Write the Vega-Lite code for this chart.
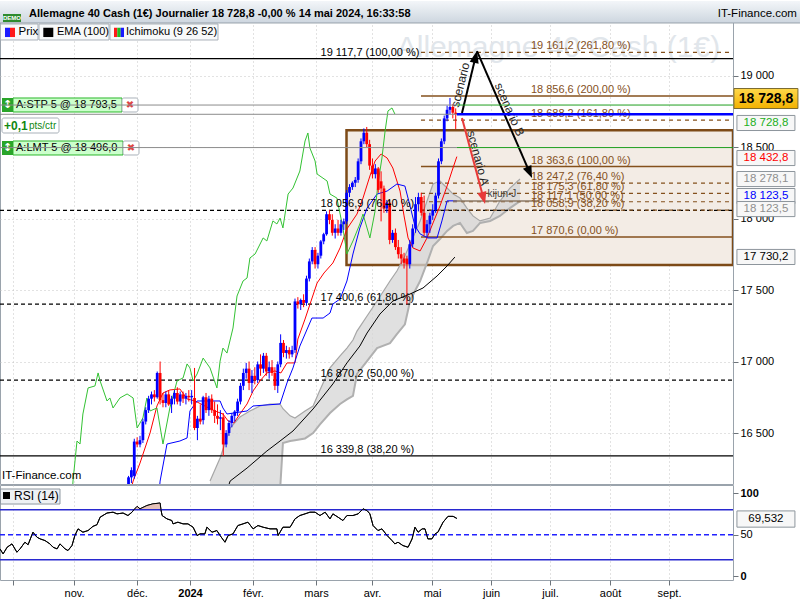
{
"$schema":"https://vega.github.io/schema/vega-lite/v6.json",
"padding":{"left":-3,"top":0,"right":0,"bottom":0},
"spacing":-3,
"background":"#ffffff",
"config":{"font":"Liberation Sans","view":{"stroke":"#9aa3ac"},"scale":{"continuousPadding":0},"axis":{"labelFontSize":11,"labelColor":"#000000","tickColor":"#6d747b","domainColor":"#6d747b","gridColor":"#c4c4c4","gridDash":[1,3],"labelFont":"Liberation Sans"},"text":{"font":"Liberation Sans"}},
"datasets":{
"one":[{}],
"candles":[
{"t":19,"o":16120,"h":16200,"l":16090,"c":16190},{"t":20,"o":16190,"h":16260,"l":16150,"c":16240},{"t":21,"o":16200,"h":16460,"l":16180,"c":16440},{"t":22,"o":16440,"h":16470,"l":16400,"c":16420},{"t":23,"o":16420,"h":16480,"l":16400,"c":16450},{"t":24,"o":16450,"h":16600,"l":16430,"c":16580},{"t":25,"o":16580,"h":16680,"l":16560,"c":16660},{"t":26,"o":16660,"h":16760,"l":16640,"c":16740},{"t":27,"o":16740,"h":16790,"l":16700,"c":16770},{"t":28,"o":16770,"h":16800,"l":16720,"c":16750},
{"t":29,"o":16750,"h":16930,"l":16740,"c":16920},{"t":30,"o":16920,"h":17000,"l":16700,"c":16730},{"t":31,"o":16730,"h":16780,"l":16680,"c":16710},{"t":32,"o":16710,"h":16790,"l":16680,"c":16770},{"t":33,"o":16770,"h":16800,"l":16690,"c":16700},{"t":34,"o":16700,"h":16760,"l":16640,"c":16740},{"t":35,"o":16740,"h":16800,"l":16700,"c":16780},{"t":36,"o":16780,"h":16820,"l":16700,"c":16720},{"t":37,"o":16720,"h":16790,"l":16690,"c":16770},{"t":38,"o":16770,"h":16790,"l":16710,"c":16740},
{"t":39,"o":16740,"h":16780,"l":16700,"c":16760},{"t":40,"o":16760,"h":16800,"l":16720,"c":16750},{"t":41,"o":16750,"h":16800,"l":16700,"c":16760},{"t":42,"o":16745,"h":16955,"l":16520,"c":16535},{"t":43,"o":16535,"h":16620,"l":16450,"c":16600},{"t":44,"o":16600,"h":16700,"l":16560,"c":16580},{"t":45,"o":16590,"h":16760,"l":16560,"c":16750},{"t":46,"o":16750,"h":16780,"l":16640,"c":16660},{"t":47,"o":16660,"h":16760,"l":16620,"c":16740},{"t":48,"o":16740,"h":16770,"l":16640,"c":16660},
{"t":49,"o":16660,"h":16720,"l":16570,"c":16620},{"t":50,"o":16620,"h":16700,"l":16560,"c":16600},{"t":51,"o":16600,"h":16660,"l":16520,"c":16610},{"t":52,"o":16610,"h":16640,"l":16340,"c":16420},{"t":53,"o":16420,"h":16520,"l":16400,"c":16500},{"t":54,"o":16500,"h":16590,"l":16480,"c":16570},{"t":55,"o":16570,"h":16640,"l":16540,"c":16620},{"t":56,"o":16620,"h":16660,"l":16580,"c":16650},{"t":57,"o":16650,"h":16740,"l":16620,"c":16720},{"t":58,"o":16720,"h":16850,"l":16700,"c":16830},
{"t":59,"o":16830,"h":16950,"l":16800,"c":16920},{"t":60,"o":16920,"h":16990,"l":16880,"c":16950},{"t":61,"o":16950,"h":17000,"l":16800,"c":16850},{"t":62,"o":16850,"h":16940,"l":16780,"c":16900},{"t":63,"o":16900,"h":16960,"l":16840,"c":16870},{"t":64,"o":16870,"h":17000,"l":16850,"c":16980},{"t":65,"o":16980,"h":17050,"l":16900,"c":16950},{"t":66,"o":16950,"h":17060,"l":16920,"c":17040},{"t":67,"o":17040,"h":17060,"l":16900,"c":16930},{"t":68,"o":16930,"h":17000,"l":16880,"c":16960},
{"t":69,"o":16960,"h":17010,"l":16900,"c":16920},{"t":70,"o":16920,"h":16960,"l":16800,"c":16830},{"t":71,"o":16830,"h":17000,"l":16780,"c":16980},{"t":72,"o":16980,"h":17190,"l":16960,"c":17130},{"t":73,"o":17130,"h":17150,"l":17030,"c":17060},{"t":74,"o":17060,"h":17110,"l":17020,"c":17080},{"t":75,"o":17080,"h":17100,"l":17020,"c":17050},{"t":76,"o":17050,"h":17110,"l":17030,"c":17080},{"t":77,"o":17080,"h":17440,"l":17060,"c":17420},{"t":78,"o":17420,"h":17450,"l":17370,"c":17400},
{"t":79,"o":17400,"h":17440,"l":17360,"c":17430},{"t":80,"o":17430,"h":17470,"l":17380,"c":17410},{"t":81,"o":17410,"h":17600,"l":17390,"c":17580},{"t":82,"o":17580,"h":17720,"l":17560,"c":17700},{"t":83,"o":17700,"h":17800,"l":17680,"c":17780},{"t":84,"o":17780,"h":17800,"l":17650,"c":17680},{"t":85,"o":17680,"h":17760,"l":17650,"c":17740},{"t":86,"o":17740,"h":17850,"l":17720,"c":17840},{"t":87,"o":17840,"h":17900,"l":17820,"c":17890},{"t":88,"o":17890,"h":18050,"l":17880,"c":18030},
{"t":89,"o":18030,"h":18060,"l":17960,"c":17990},{"t":90,"o":17990,"h":18030,"l":17880,"c":17900},{"t":91,"o":17900,"h":17960,"l":17860,"c":17930},{"t":92,"o":17930,"h":17990,"l":17880,"c":17900},{"t":93,"o":17900,"h":17990,"l":17880,"c":17960},{"t":94,"o":17960,"h":18000,"l":17920,"c":17980},{"t":95,"o":17980,"h":18200,"l":17960,"c":18180},{"t":96,"o":18180,"h":18240,"l":18150,"c":18220},{"t":97,"o":18220,"h":18260,"l":18200,"c":18250},{"t":98,"o":18250,"h":18290,"l":18220,"c":18270},
{"t":99,"o":18270,"h":18420,"l":18250,"c":18400},{"t":100,"o":18400,"h":18560,"l":18380,"c":18540},{"t":101,"o":18540,"h":18630,"l":18520,"c":18600},{"t":102,"o":18600,"h":18640,"l":18500,"c":18520},{"t":103,"o":18520,"h":18550,"l":18340,"c":18370},{"t":104,"o":18370,"h":18420,"l":18280,"c":18310},{"t":105,"o":18310,"h":18380,"l":18280,"c":18350},{"t":106,"o":18350,"h":18360,"l":18180,"c":18200},{"t":107,"o":18260,"h":18330,"l":17980,"c":18210},{"t":108,"o":18210,"h":18230,"l":18040,"c":18070},
{"t":109,"o":18070,"h":18130,"l":18040,"c":18110},{"t":110,"o":18110,"h":18130,"l":17820,"c":17850},{"t":111,"o":17850,"h":17920,"l":17830,"c":17900},{"t":112,"o":17900,"h":17930,"l":17780,"c":17800},{"t":113,"o":17800,"h":17850,"l":17720,"c":17750},{"t":114,"o":17750,"h":17800,"l":17680,"c":17720},{"t":115,"o":17720,"h":17760,"l":17650,"c":17690},{"t":116,"o":17720,"h":17740,"l":17400,"c":17680},{"t":117,"o":17680,"h":17850,"l":17650,"c":17820},{"t":118,"o":17820,"h":17960,"l":17800,"c":17930},
{"t":119,"o":17930,"h":18150,"l":17900,"c":18100},{"t":120,"o":18100,"h":18180,"l":18050,"c":18150},{"t":121,"o":18150,"h":18180,"l":18020,"c":18040},{"t":122,"o":18040,"h":18160,"l":17880,"c":17900},{"t":123,"o":17900,"h":17990,"l":17870,"c":17960},{"t":124,"o":17960,"h":18040,"l":17900,"c":18020},{"t":125,"o":18020,"h":18100,"l":17990,"c":18060},{"t":126,"o":18060,"h":18180,"l":18040,"c":18160},{"t":127,"o":18160,"h":18420,"l":18140,"c":18400},{"t":128,"o":18400,"h":18560,"l":18380,"c":18540},
{"t":129,"o":18540,"h":18720,"l":18520,"c":18700},{"t":130,"o":18700,"h":18790,"l":18680,"c":18760},{"t":131,"o":18760,"h":18843,"l":18730,"c":18780},{"t":132,"o":18780,"h":18800,"l":18700,"c":18740},{"t":133,"o":18740,"h":18770,"l":18626,"c":18728.8}
],
"ind":[
{"s":"tenkan","t":18.5,"v":16000},{"s":"tenkan","t":20.6,"v":16164},{"s":"tenkan","t":23,"v":16290},{"s":"tenkan","t":26.5,"v":16500},{"s":"tenkan","t":28.9,"v":16689},{"s":"tenkan","t":31,"v":16780},{"s":"tenkan","t":33.4,"v":16801},{"s":"tenkan","t":36.9,"v":16808},{"s":"tenkan","t":39.4,"v":16738},{"s":"tenkan","t":42.2,"v":16724},{"s":"tenkan","t":45.6,"v":16689},{"s":"tenkan","t":49.1,"v":16654},{"s":"tenkan","t":51.9,"v":16633},{"s":"tenkan","t":53.7,"v":16584},{"s":"tenkan","t":55.7,"v":16570},{"s":"tenkan","t":57.8,"v":16633},{"s":"tenkan","t":60.3,"v":16703},{"s":"tenkan","t":62.4,"v":16794},{"s":"tenkan","t":64.8,"v":16864},{"s":"tenkan","t":67.2,"v":16920},{"s":"tenkan","t":70,"v":16934},{"s":"tenkan","t":72.1,"v":16920},{"s":"tenkan","t":74.2,"v":16990},{"s":"tenkan","t":77,"v":16990},{"s":"tenkan","t":78,"v":17157},{"s":"tenkan","t":80.5,"v":17297},{"s":"tenkan","t":82.6,"v":17423},{"s":"tenkan","t":84.7,"v":17549},{"s":"tenkan","t":87.1,"v":17619},{"s":"tenkan","t":90.2,"v":17689},{"s":"tenkan","t":92.7,"v":17794},{"s":"tenkan","t":95.1,"v":17927},{"s":"tenkan","t":98.6,"v":18031},{"s":"tenkan","t":100.7,"v":18143},{"s":"tenkan","t":103.1,"v":18297},{"s":"tenkan","t":104.9,"v":18402},{"s":"tenkan","t":107,"v":18451},{"s":"tenkan","t":109.1,"v":18423},{"s":"tenkan","t":111.1,"v":18353},{"s":"tenkan","t":113.6,"v":18192},{"s":"tenkan","t":115,"v":18018},{"s":"tenkan","t":116.4,"v":17864},{"s":"tenkan","t":118.1,"v":17794},{"s":"tenkan","t":120.6,"v":17773},{"s":"tenkan","t":123,"v":17864},{"s":"tenkan","t":125.1,"v":17969},{"s":"tenkan","t":127.5,"v":18087},{"s":"tenkan","t":130,"v":18227},{"s":"tenkan","t":131.7,"v":18332},{"s":"tenkan","t":133.4,"v":18432.8},
{"s":"kijun","t":29.5,"v":16050},{"s":"kijun","t":30,"v":16164},{"s":"kijun","t":32.4,"v":16423},{"s":"kijun","t":36.9,"v":16444},{"s":"kijun","t":39.4,"v":16465},{"s":"kijun","t":40.4,"v":16654},{"s":"kijun","t":42.9,"v":16724},{"s":"kijun","t":50.9,"v":16724},{"s":"kijun","t":51.9,"v":16675},{"s":"kijun","t":53.3,"v":16633},{"s":"kijun","t":60.3,"v":16654},{"s":"kijun","t":62.4,"v":16689},{"s":"kijun","t":71.8,"v":16703},{"s":"kijun","t":74.2,"v":16850},{"s":"kijun","t":76.3,"v":16955},{"s":"kijun","t":78.7,"v":17108},{"s":"kijun","t":82.9,"v":17304},{"s":"kijun","t":86.8,"v":17304},{"s":"kijun","t":89.2,"v":17339},{"s":"kijun","t":90.2,"v":17402},{"s":"kijun","t":92.7,"v":17437},{"s":"kijun","t":95.1,"v":17563},{"s":"kijun","t":97.2,"v":17752},{"s":"kijun","t":99.6,"v":17934},{"s":"kijun","t":102.1,"v":18073},{"s":"kijun","t":105.6,"v":18171},{"s":"kijun","t":109.1,"v":18192},{"s":"kijun","t":112.5,"v":18241},{"s":"kijun","t":115.3,"v":18227},{"s":"kijun","t":117.1,"v":18087},{"s":"kijun","t":118.8,"v":17948},{"s":"kijun","t":120.6,"v":17892},{"s":"kijun","t":123.3,"v":17864},{"s":"kijun","t":126.5,"v":17864},{"s":"kijun","t":128.2,"v":17983},{"s":"kijun","t":130,"v":18123.5},{"s":"kijun","t":133.4,"v":18123.5},
{"s":"chikou","t":-0.8,"v":16000},{"s":"chikou","t":-0.35,"v":16164},{"s":"chikou","t":1.05,"v":16444},{"s":"chikou","t":2.1,"v":16423},{"s":"chikou","t":3.1,"v":16633},{"s":"chikou","t":4.9,"v":16815},{"s":"chikou","t":7.3,"v":16829},{"s":"chikou","t":8.4,"v":16920},{"s":"chikou","t":9.1,"v":16864},{"s":"chikou","t":11.5,"v":16724},{"s":"chikou","t":12.5,"v":16745},{"s":"chikou","t":13.6,"v":16675},{"s":"chikou","t":16,"v":16745},{"s":"chikou","t":18.5,"v":16773},{"s":"chikou","t":20.6,"v":16745},{"s":"chikou","t":22,"v":16535},{"s":"chikou","t":24,"v":16605},{"s":"chikou","t":25.4,"v":16745},{"s":"chikou","t":26.5,"v":16654},{"s":"chikou","t":28.9,"v":16675},{"s":"chikou","t":31,"v":16423},{"s":"chikou","t":33.4,"v":16675},{"s":"chikou","t":35.9,"v":16864},{"s":"chikou","t":38,"v":16885},{"s":"chikou","t":39.4,"v":16983},{"s":"chikou","t":40.4,"v":16955},{"s":"chikou","t":41.5,"v":16864},{"s":"chikou","t":42.9,"v":16913},{"s":"chikou","t":45,"v":17024},{"s":"chikou","t":47.4,"v":16955},{"s":"chikou","t":49.8,"v":16815},{"s":"chikou","t":50.9,"v":17003},{"s":"chikou","t":51.9,"v":17094},{"s":"chikou","t":53.3,"v":17059},{"s":"chikou","t":55.4,"v":17234},{"s":"chikou","t":56.8,"v":17458},{"s":"chikou","t":58.9,"v":17563},{"s":"chikou","t":60.3,"v":17584},{"s":"chikou","t":61.3,"v":17724},{"s":"chikou","t":63.1,"v":17752},{"s":"chikou","t":65.9,"v":17864},{"s":"chikou","t":67.2,"v":17843},{"s":"chikou","t":69.3,"v":17983},{"s":"chikou","t":70.7,"v":17962},{"s":"chikou","t":71.8,"v":18003},{"s":"chikou","t":72.8,"v":17934},{"s":"chikou","t":74.6,"v":18171},{"s":"chikou","t":76.3,"v":18213},{"s":"chikou","t":78.7,"v":18332},{"s":"chikou","t":80.5,"v":18542},{"s":"chikou","t":81.5,"v":18598},{"s":"chikou","t":82.2,"v":18493},{"s":"chikou","t":84,"v":18402},{"s":"chikou","t":84.7,"v":18311},{"s":"chikou","t":88.2,"v":18262},{"s":"chikou","t":89.2,"v":18171},{"s":"chikou","t":91.6,"v":18143},{"s":"chikou","t":93.7,"v":17934},{"s":"chikou","t":95.1,"v":17752},{"s":"chikou","t":97.2,"v":17843},{"s":"chikou","t":99.6,"v":17962},{"s":"chikou","t":100.7,"v":18031},{"s":"chikou","t":102.1,"v":17934},{"s":"chikou","t":103.1,"v":17864},{"s":"chikou","t":104.9,"v":18052},{"s":"chikou","t":105.9,"v":18241},{"s":"chikou","t":107.3,"v":18423},{"s":"chikou","t":108.4,"v":18612},{"s":"chikou","t":109.4,"v":18752},{"s":"chikou","t":110.8,"v":18773},{"s":"chikou","t":111.8,"v":18731},
{"s":"ema","t":53,"v":16080},{"s":"ema","t":54.4,"v":16164},{"s":"ema","t":60.3,"v":16255},{"s":"ema","t":67.2,"v":16374},{"s":"ema","t":71.8,"v":16444},{"s":"ema","t":76.3,"v":16514},{"s":"ema","t":83.3,"v":16668},{"s":"ema","t":90.2,"v":16843},{"s":"ema","t":95.1,"v":16990},{"s":"ema","t":99.6,"v":17108},{"s":"ema","t":102.1,"v":17199},{"s":"ema","t":106.6,"v":17332},{"s":"ema","t":111.1,"v":17423},{"s":"ema","t":117.1,"v":17472},{"s":"ema","t":121.6,"v":17514},{"s":"ema","t":126.5,"v":17598},{"s":"ema","t":130,"v":17668},{"s":"ema","t":132.7,"v":17730.2}
],
"cloud":[
{"t":47.4,"u":16164,"l":15605},{"t":50.9,"u":16325,"l":15700},{"t":54.4,"u":16535,"l":15780},{"t":57.8,"u":16612,"l":15850},{"t":61.3,"u":16654,"l":15900},{"t":64.8,"u":16689,"l":15950},{"t":68.3,"u":16703,"l":16000},{"t":70,"u":16703,"l":16050},{"t":71.8,"u":16703,"l":16100},{"t":72.8,"u":16670,"l":16430},{"t":75.3,"u":16620,"l":16444},{"t":77,"u":16605,"l":16450},{"t":80.5,"u":16654,"l":16462},{"t":83.3,"u":16689,"l":16500},{"t":85.7,"u":16800,"l":16560},{"t":89.2,"u":16955,"l":16640},{"t":92.7,"u":17040,"l":16703},{"t":95.1,"u":17094,"l":16735},{"t":97.2,"u":17150,"l":16760},{"t":98.6,"u":17213,"l":16913},{"t":102.1,"u":17318,"l":17003},{"t":105.6,"u":17423,"l":17094},{"t":110.1,"u":17563,"l":17129},{"t":112.5,"u":17633,"l":17192},{"t":115.3,"u":17738,"l":17260},{"t":117.1,"u":17822,"l":17423},{"t":118.8,"u":17899,"l":17493},{"t":120.6,"u":17983,"l":17563},{"t":123,"u":18122,"l":17689},{"t":125.1,"u":18241,"l":17808},{"t":127.5,"u":18262,"l":17857},{"t":130,"u":18213,"l":17913},{"t":132.1,"u":18171,"l":17948},{"t":134.5,"u":18143,"l":17969},{"t":136.9,"u":18073,"l":17899},{"t":139,"u":18018,"l":17913},{"t":141.5,"u":17983,"l":17969},{"t":145,"u":18003,"l":17983},{"t":148.4,"u":18122,"l":18018},{"t":151.9,"u":18213,"l":18073},{"t":155.4,"u":18276,"l":18122}
],
"rsi":[
{"t":-25.8,"v":33},{"t":-24.7,"v":27},{"t":-23.3,"v":35},{"t":-21.6,"v":39},{"t":-19.9,"v":29},{"t":-18.8,"v":33},{"t":-17.1,"v":41},{"t":-16,"v":38},{"t":-14.3,"v":53},{"t":-12.9,"v":47},{"t":-11.8,"v":45},{"t":-10.1,"v":43},{"t":-8.4,"v":39},{"t":-7.3,"v":35},{"t":-5.9,"v":33},{"t":-4.9,"v":39},{"t":-3.1,"v":33},{"t":-2.1,"v":31},{"t":-0.7,"v":37},{"t":0.3,"v":49},{"t":1.4,"v":57},{"t":3.1,"v":53},{"t":4.9,"v":55},{"t":6.6,"v":60},{"t":8,"v":62},{"t":9.1,"v":71},{"t":11.5,"v":76},{"t":13.6,"v":77},{"t":15,"v":75},{"t":17.1,"v":76},{"t":18.8,"v":73},{"t":20.2,"v":77},{"t":20.9,"v":80},{"t":22,"v":84},{"t":23,"v":81},{"t":25.4,"v":85},{"t":27.5,"v":87},{"t":30,"v":88},{"t":30.3,"v":80},{"t":30.7,"v":73},{"t":32.4,"v":69},{"t":34.1,"v":67},{"t":34.5,"v":63},{"t":36.2,"v":65},{"t":38,"v":63},{"t":39.7,"v":63},{"t":41.5,"v":59},{"t":42.9,"v":49},{"t":43.9,"v":51},{"t":45.6,"v":51},{"t":46.3,"v":59},{"t":48.1,"v":53},{"t":49.8,"v":55},{"t":50.9,"v":49},{"t":52.6,"v":41},{"t":53.7,"v":49},{"t":55.4,"v":51},{"t":57.1,"v":61},{"t":58.9,"v":63},{"t":60.6,"v":65},{"t":62.4,"v":57},{"t":64.1,"v":61},{"t":65.9,"v":59},{"t":68.3,"v":57},{"t":70.7,"v":57},{"t":71.1,"v":49},{"t":72.8,"v":59},{"t":75.3,"v":59},{"t":77,"v":69},{"t":78.7,"v":73},{"t":80.5,"v":75},{"t":82.2,"v":77},{"t":84,"v":77},{"t":85.7,"v":73},{"t":87.5,"v":77},{"t":89.2,"v":69},{"t":90.2,"v":75},{"t":92,"v":71},{"t":93.7,"v":67},{"t":95.1,"v":73},{"t":97.2,"v":73},{"t":99,"v":75},{"t":100.7,"v":81},{"t":102.1,"v":79},{"t":103.1,"v":75},{"t":104.2,"v":61},{"t":105.9,"v":55},{"t":107.3,"v":57},{"t":109.1,"v":49},{"t":110.8,"v":43},{"t":111.8,"v":39},{"t":112.9,"v":41},{"t":114.6,"v":37},{"t":116.4,"v":35},{"t":117.8,"v":45},{"t":118.8,"v":59},{"t":119.9,"v":53},{"t":121.3,"v":57},{"t":122.3,"v":57},{"t":123.3,"v":45},{"t":124.7,"v":45},{"t":125.8,"v":51},{"t":126.8,"v":53},{"t":128.6,"v":65},{"t":130.3,"v":72},{"t":132.1,"v":72},{"t":133.4,"v":69.5}
],
"fib":[
{"set":"ret","p":19117.7,"pct":"100,00 %","lab":"19 117,7 (100,00 %)"},{"set":"ret","p":18056.9,"pct":"76,40 %","lab":"18 056,9 (76,40 %)"},{"set":"ret","p":17400.6,"pct":"61,80 %","lab":"17 400,6 (61,80 %)"},{"set":"ret","p":16870.2,"pct":"50,00 %","lab":"16 870,2 (50,00 %)"},{"set":"ret","p":16339.8,"pct":"38,20 %","lab":"16 339,8 (38,20 %)"},
{"set":"ext","p":19161.2,"pct":"261,80 %","lab":"19 161,2 (261,80 %)"},{"set":"ext","p":18856.6,"pct":"200,00 %","lab":"18 856,6 (200,00 %)"},{"set":"ext","p":18688.2,"pct":"161,80 %","lab":"18 688,2 (161,80 %)"},{"set":"ext","p":18363.6,"pct":"100,00 %","lab":"18 363,6 (100,00 %)"},{"set":"ext","p":18247.2,"pct":"76,40 %","lab":"18 247,2 (76,40 %)"},{"set":"ext","p":18175.3,"pct":"61,80 %","lab":"18 175,3 (61,80 %)"},{"set":"ext","p":18117.1,"pct":"50,00 %","lab":"18 117,1 (50,00 %)"},{"set":"ext","p":18058.9,"pct":"38,20 %","lab":"18 058,9 (38,20 %)"},{"set":"ext","p":17870.6,"pct":"0,00 %","lab":"17 870,6 (0,00 %)"}
],
"ord":[{"k":"stp","p":18793.5},{"k":"last","p":18728.8},{"k":"lmt","p":18496}],
"tags":[{"k":"chikou","lab":"18 728,8","p":18668},{"k":"tenkan","lab":"18 432,8","p":18423},{"k":"ssa","lab":"18 278,1","p":18276},{"k":"kijun","lab":"18 123,5","p":18157},{"k":"ssb","lab":"18 123,5","p":18066},{"k":"ema","lab":"17 730,2","p":17731}]
},
"vconcat":[
{"width":733,"height":483,
"layer":[
{"data":{"name":"candles"},"mark":{"type":"rule","strokeWidth":1,"clip":true},
 "encoding":{
  "x":{"field":"t","type":"quantitative","scale":{"domain":[-25.784,229.617],"nice":false,"zero":false,"padding":0},"axis":{"values":[-21.36,0,21.95,40.42,62.37,84.32,103.83,124.74,145.3,165.85,186.76,207.32],"labels":false,"ticks":false,"domain":false,"grid":true,"title":null}},
  "y":{"field":"l","type":"quantitative","scale":{"domain":[16143.4,19521],"nice":false,"zero":false,"padding":0},"axis":{"orient":"right","values":[16500,17000,17500,18000,18500,19000],"labelExpr":"replace(format(datum.value, ','), ',', ' ')","grid":true,"title":null,"tickSize":5,"labelPadding":2,"domain":false}},
  "y2":{"field":"h"},
  "color":{"value":"#ffffff"},"opacity":{"value":0}}},
{"data":{"name":"one"},"mark":{"type":"text","text":"Allemagne 40 Cash (1€)","fontSize":30,"color":"#e1e6eb","align":"center","baseline":"middle"},"encoding":{"x":{"datum":168.8},"y":{"datum":19192}}},
{"data":{"name":"one"},"mark":{"type":"rect","fill":"#f3ece5","stroke":"#7d4a17","strokeWidth":2.5,"clip":true},"encoding":{"x":{"datum":94.95},"x2":{"datum":229.617},"y":{"datum":18617},"y2":{"datum":17675}}},
{"data":{"name":"cloud"},"mark":{"type":"area","fill":"#d6d6d6","opacity":0.75,"clip":true},"encoding":{"x":{"field":"t","type":"quantitative"},"y":{"field":"u","type":"quantitative"},"y2":{"field":"l"}}},
{"data":{"name":"cloud"},"mark":{"type":"line","stroke":"#a6a6a6","strokeWidth":1.2,"clip":true},"encoding":{"x":{"field":"t","type":"quantitative"},"y":{"field":"u","type":"quantitative"}}},
{"data":{"name":"cloud"},"mark":{"type":"line","stroke":"#b0b0b0","strokeWidth":2,"clip":true},"encoding":{"x":{"field":"t","type":"quantitative"},"y":{"field":"l","type":"quantitative"}}},
{"data":{"name":"fib"},"transform":[{"filter":"datum.set=='ret' && (datum.pct=='100,00 %' || datum.pct=='38,20 %')"}],"mark":{"type":"rule","color":"#000000","strokeWidth":1.3},"encoding":{"x":{"datum":-25.784},"x2":{"datum":229.617},"y":{"field":"p","type":"quantitative"}}},
{"data":{"name":"fib"},"transform":[{"filter":"datum.set=='ret' && datum.pct!='100,00 %' && datum.pct!='38,20 %'"}],"mark":{"type":"rule","color":"#000000","strokeWidth":1.2,"strokeDash":[4,3]},"encoding":{"x":{"datum":-25.784},"x2":{"datum":229.617},"y":{"field":"p","type":"quantitative"}}},
{"data":{"name":"fib"},"transform":[{"filter":"datum.set=='ext' && (datum.pct=='200,00 %' || datum.pct=='100,00 %' || datum.pct=='0,00 %')"}],"mark":{"type":"rule","color":"#84501c","strokeWidth":1.6},"encoding":{"x":{"datum":120.9},"x2":{"datum":229.617},"y":{"field":"p","type":"quantitative"}}},
{"data":{"name":"fib"},"transform":[{"filter":"datum.set=='ext' && datum.pct!='200,00 %' && datum.pct!='100,00 %' && datum.pct!='0,00 %'"}],"mark":{"type":"rule","color":"#84501c","strokeWidth":1.2,"strokeDash":[4,4]},"encoding":{"x":{"datum":120.9},"x2":{"datum":229.617},"y":{"field":"p","type":"quantitative"}}},
{"data":{"name":"ind"},"mark":{"type":"line","strokeWidth":1,"clip":true},"encoding":{"x":{"field":"t","type":"quantitative"},"y":{"field":"v","type":"quantitative"},"stroke":{"field":"s","type":"nominal","scale":{"domain":["chikou","ema","kijun","tenkan"],"range":["#33c233","#000000","#0000ff","#ff0000"]},"legend":null}}},
{"data":{"name":"candles"},"mark":{"type":"rule","strokeWidth":1,"clip":true},"encoding":{"x":{"field":"t","type":"quantitative"},"y":{"field":"l","type":"quantitative"},"y2":{"field":"h"},"color":{"condition":{"test":"datum.c >= datum.o","value":"#0000ff"},"value":"#ff0000"}}},
{"data":{"name":"candles"},"mark":{"type":"bar","width":2.8,"clip":true},"encoding":{"x":{"field":"t","type":"quantitative"},"y":{"field":"o","type":"quantitative"},"y2":{"field":"c"},"color":{"condition":{"test":"datum.c >= datum.o","value":"#0000ff"},"value":"#ff0000"}}},
{"data":{"name":"one"},"mark":{"type":"rule","color":"#8c7a66","strokeWidth":1.5},"encoding":{"x":{"datum":132.06},"x2":{"datum":162.37},"y":{"datum":18122}}},
{"data":{"name":"one"},"mark":{"type":"text","text":"kijun-J","fontSize":10,"color":"#444444","align":"center","baseline":"middle"},"encoding":{"x":{"datum":149.1},"y":{"datum":18171}}},
{"data":{"name":"one"},"mark":{"type":"rule","color":"#000000","strokeWidth":2},"encoding":{"x":{"datum":135.19},"y":{"datum":18738},"x2":{"datum":139.93},"y2":{"datum":19131}}},
{"data":{"name":"one"},"mark":{"type":"rule","color":"#000000","strokeWidth":2},"encoding":{"x":{"datum":140.42},"y":{"datum":19171},"x2":{"datum":158.75},"y2":{"datum":18322}}},
{"data":{"name":"one"},"mark":{"type":"rule","color":"#e83a3a","strokeWidth":2},"encoding":{"x":{"datum":135.19},"y":{"datum":18703},"x2":{"datum":142.67},"y2":{"datum":18142}}},
{"data":{"name":"one"},"mark":{"type":"point","shape":"M0,-1L0.75,1L-0.75,1Z","filled":true,"size":150,"angle":13.6,"color":"#000000","opacity":1},"encoding":{"x":{"datum":139.93},"y":{"datum":19131}}},
{"data":{"name":"one"},"mark":{"type":"point","shape":"M0,-1L0.75,1L-0.75,1Z","filled":true,"size":150,"angle":156.6,"color":"#000000","opacity":1},"encoding":{"x":{"datum":158.75},"y":{"datum":18322}}},
{"data":{"name":"one"},"mark":{"type":"point","shape":"M0,-1L0.75,1L-0.75,1Z","filled":true,"size":150,"angle":165,"color":"#e83a3a","opacity":1},"encoding":{"x":{"datum":142.67},"y":{"datum":18142}}},
{"data":{"name":"one"},"mark":{"type":"text","text":"scenario","fontSize":12,"angle":-76,"color":"#222222","align":"center","baseline":"middle"},"encoding":{"x":{"datum":134.6},"y":{"datum":18934}}},
{"data":{"name":"one"},"mark":{"type":"text","text":"scenario B","fontSize":12,"angle":66.6,"color":"#222222","align":"center","baseline":"middle"},"encoding":{"x":{"datum":151.74},"y":{"datum":18762}}},
{"data":{"name":"one"},"mark":{"type":"text","text":"scenario A","fontSize":12,"angle":75,"color":"#222222","align":"center","baseline":"middle"},"encoding":{"x":{"datum":140.77},"y":{"datum":18423}}},
{"data":{"name":"fib"},"transform":[{"filter":"datum.set=='ret'"}],"mark":{"type":"text","fontSize":11,"color":"#000000","align":"left","baseline":"bottom","dy":-1},"encoding":{"x":{"datum":85.9},"y":{"field":"p","type":"quantitative"},"text":{"field":"lab"}}},
{"data":{"name":"fib"},"transform":[{"filter":"datum.set=='ext'"}],"mark":{"type":"text","fontSize":11,"color":"#84501c","align":"left","baseline":"bottom","dy":-1},"encoding":{"x":{"datum":159.2},"y":{"field":"p","type":"quantitative"},"text":{"field":"lab"}}},
{"data":{"name":"one"},"mark":{"type":"rect","fill":"#ccffcc","stroke":"#2cb82c","strokeWidth":1},"encoding":{"x":{"datum":-21.254},"x2":{"datum":16.725},"y":{"datum":18842.7},"y2":{"datum":18744.8}}},
{"data":{"name":"one"},"mark":{"type":"rect","fill":"#2aa52a"},"encoding":{"x":{"datum":-25.087},"x2":{"datum":-21.254},"y":{"datum":18842.7},"y2":{"datum":18744.8}}},
{"data":{"name":"one"},"mark":{"type":"rect","fill":"#ffffff","stroke":"#a9b1b9","cornerRadius":2},"encoding":{"x":{"datum":16.725},"x2":{"datum":22.3},"y":{"datum":18842.7},"y2":{"datum":18744.8}}},
{"data":{"name":"one"},"mark":{"type":"text","text":"↕","fontSize":11,"fontWeight":"bold","color":"#ffffff","font":"DejaVu Sans","align":"center","baseline":"middle"},"encoding":{"x":{"datum":-23.17},"y":{"datum":18794}}},
{"data":{"name":"one"},"mark":{"type":"text","text":"A:STP  5  @ 18 793,5","fontSize":11,"color":"#000000","align":"left","baseline":"middle"},"encoding":{"x":{"datum":-20.2},"y":{"datum":18794}}},
{"data":{"name":"one"},"mark":{"type":"text","text":"✖","fontSize":10,"color":"#dd4444","font":"DejaVu Sans","align":"center","baseline":"middle"},"encoding":{"x":{"datum":19.51},"y":{"datum":18794}}},
{"data":{"name":"one"},"mark":{"type":"rect","fill":"#ccffcc","stroke":"#2cb82c","strokeWidth":1},"encoding":{"x":{"datum":-21.254},"x2":{"datum":17.073},"y":{"datum":18542},"y2":{"datum":18444.1}}},
{"data":{"name":"one"},"mark":{"type":"rect","fill":"#2aa52a"},"encoding":{"x":{"datum":-25.087},"x2":{"datum":-21.254},"y":{"datum":18542},"y2":{"datum":18444.1}}},
{"data":{"name":"one"},"mark":{"type":"rect","fill":"#ffffff","stroke":"#a9b1b9","cornerRadius":2},"encoding":{"x":{"datum":17.073},"x2":{"datum":22.648},"y":{"datum":18542},"y2":{"datum":18444.1}}},
{"data":{"name":"one"},"mark":{"type":"text","text":"↕","fontSize":11,"fontWeight":"bold","color":"#ffffff","font":"DejaVu Sans","align":"center","baseline":"middle"},"encoding":{"x":{"datum":-23.17},"y":{"datum":18493}}},
{"data":{"name":"one"},"mark":{"type":"text","text":"A:LMT  5  @ 18 496,0","fontSize":11,"color":"#000000","align":"left","baseline":"middle"},"encoding":{"x":{"datum":-20.2},"y":{"datum":18493}}},
{"data":{"name":"one"},"mark":{"type":"text","text":"✖","fontSize":10,"color":"#dd4444","font":"DejaVu Sans","align":"center","baseline":"middle"},"encoding":{"x":{"datum":19.86},"y":{"datum":18493}}},
{"data":{"name":"one"},"mark":{"type":"rect","fill":"#ffffff","stroke":"#a9b1b9","cornerRadius":2},"encoding":{"x":{"datum":-25.087},"x2":{"datum":-5.226},"y":{"datum":18702.8},"y2":{"datum":18597.9}}},
{"data":{"name":"one"},"mark":{"type":"text","text":"+0,1","fontSize":12,"fontWeight":"bold","color":"#118811","align":"left","baseline":"middle"},"encoding":{"x":{"datum":-24.39},"y":{"datum":18650}}},
{"data":{"name":"one"},"mark":{"type":"text","text":"pts/ctr","fontSize":10,"color":"#118811","align":"left","baseline":"middle"},"encoding":{"x":{"datum":-15.68},"y":{"datum":18650}}},
{"data":{"name":"ord"},"mark":{"type":"rule","color":"#8c8c8c","strokeWidth":1},"encoding":{"x":{"datum":-25.784},"x2":{"datum":133.4},"y":{"field":"p","type":"quantitative"}}},
{"data":{"name":"ord"},"transform":[{"filter":"datum.k != 'last'"}],"mark":{"type":"rule","color":"#1e9e1e","strokeWidth":1},"encoding":{"x":{"datum":133.4},"x2":{"datum":229.617},"y":{"field":"p","type":"quantitative"}}},
{"data":{"name":"ord"},"transform":[{"filter":"datum.k == 'last'"}],"mark":{"type":"rule","color":"#0000ff","strokeWidth":2.5},"encoding":{"x":{"datum":133.4},"x2":{"datum":229.617},"y":{"field":"p","type":"quantitative"}}},
{"data":{"name":"one"},"mark":{"type":"rect","fill":"#f7f9fa","stroke":"#aab2ba"},"encoding":{"x":{"datum":-25.61},"x2":{"datum":-12.544},"y":{"datum":19360.2},"y2":{"datum":19248.3}}},
{"data":{"name":"one"},"mark":{"type":"rect","fill":"#f7f9fa","stroke":"#aab2ba"},"encoding":{"x":{"datum":-12.195},"x2":{"datum":12.195},"y":{"datum":19360.2},"y2":{"datum":19248.3}}},
{"data":{"name":"one"},"mark":{"type":"rect","fill":"#f7f9fa","stroke":"#aab2ba"},"encoding":{"x":{"datum":12.544},"x2":{"datum":50.174},"y":{"datum":19360.2},"y2":{"datum":19248.3}}},
{"data":{"name":"one"},"mark":{"type":"rect","fill":"#1a1aff"},"encoding":{"x":{"datum":-24.042},"x2":{"datum":-22.3},"y":{"datum":19334},"y2":{"datum":19269}}},
{"data":{"name":"one"},"mark":{"type":"rect","fill":"#ff1a1a"},"encoding":{"x":{"datum":-22.3},"x2":{"datum":-20.557},"y":{"datum":19334},"y2":{"datum":19269}}},
{"data":{"name":"one"},"mark":{"type":"rect","fill":"#000000"},"encoding":{"x":{"datum":-10.697},"x2":{"datum":-7.213},"y":{"datum":19334},"y2":{"datum":19269}}},
{"data":{"name":"one"},"mark":{"type":"rect","fill":"#ff1a1a"},"encoding":{"x":{"datum":13.937},"x2":{"datum":15.087},"y":{"datum":19334},"y2":{"datum":19269}}},
{"data":{"name":"one"},"mark":{"type":"rect","fill":"#22bb22"},"encoding":{"x":{"datum":15.087},"x2":{"datum":16.272},"y":{"datum":19334},"y2":{"datum":19269}}},
{"data":{"name":"one"},"mark":{"type":"rect","fill":"#1a1aff"},"encoding":{"x":{"datum":16.272},"x2":{"datum":17.422},"y":{"datum":19334},"y2":{"datum":19269}}},
{"data":{"name":"one"},"mark":{"type":"text","text":"Prix","fontSize":11.5,"color":"#000000","align":"left","baseline":"middle"},"encoding":{"x":{"datum":-19.34},"y":{"datum":19303}}},
{"data":{"name":"one"},"mark":{"type":"text","text":"EMA (100)","fontSize":11,"color":"#000000","align":"left","baseline":"middle"},"encoding":{"x":{"datum":-5.92},"y":{"datum":19303}}},
{"data":{"name":"one"},"mark":{"type":"text","text":"Ichimoku (9 26 52)","fontSize":11,"color":"#000000","align":"left","baseline":"middle"},"encoding":{"x":{"datum":18.12},"y":{"datum":19303}}},
{"data":{"name":"one"},"mark":{"type":"text","text":"IT-Finance.com","fontSize":11.5,"color":"#000000","align":"left","baseline":"middle"},"encoding":{"x":{"datum":-25.09},"y":{"datum":16199}}},
{"data":{"name":"tags"},"mark":{"type":"point","shape":"M-1,-0.26H1V0.26H-1Z","size":3364,"filled":true,"fill":"#f7f7f7","stroke":"#8d959c","strokeWidth":1,"opacity":1,"clip":false},"encoding":{"x":{"datum":241.09},"y":{"field":"p","type":"quantitative"}}},
{"data":{"name":"tags"},"mark":{"type":"text","fontSize":11.5,"align":"center","baseline":"middle","clip":false},"encoding":{"x":{"datum":241.09},"y":{"field":"p","type":"quantitative"},"text":{"field":"lab"},"fill":{"field":"k","type":"nominal","scale":{"domain":["chikou","tenkan","ssa","kijun","ssb","ema"],"range":["#22b022","#ff0000","#8f8f8f","#0000ff","#8f8f8f","#000000"]},"legend":null}}},
{"data":{"name":"one"},"mark":{"type":"point","shape":"M-1,-0.3125H1V0.3125H-1Z","size":4096,"filled":true,"fill":{"gradient":"linear","x1":0,"y1":0,"x2":0,"y2":1,"stops":[{"offset":0,"color":"#ffd84a"},{"offset":1,"color":"#f2b100"}]},"stroke":"#7a6a30","strokeWidth":1,"opacity":1,"clip":false},"encoding":{"x":{"datum":241.09},"y":{"datum":18839}}},
{"data":{"name":"one"},"mark":{"type":"text","text":"18 728,8","fontSize":14,"fontWeight":"bold","color":"#000000","align":"center","baseline":"middle","clip":false},"encoding":{"x":{"datum":241.09},"y":{"datum":18839}}},
{"data":{"name":"one"},"mark":{"type":"rect","clip":false,"fill":{"gradient":"linear","x1":0,"y1":0,"x2":0,"y2":1,"stops":[{"offset":0,"color":"#f3f6f9"},{"offset":1,"color":"#cdd6df"}]}},"encoding":{"x":{"datum":-25.784},"x2":{"datum":252.96},"y":{"datum":19521},"y2":{"datum":19367.2}}},
{"data":{"name":"one"},"mark":{"type":"rule","color":"#98a2ac","strokeWidth":1,"clip":false},"encoding":{"x":{"datum":-25.784},"x2":{"datum":252.96},"y":{"datum":19367.2}}},
{"data":{"name":"one"},"mark":{"type":"rect","fill":"#2e8b2e","clip":false},"encoding":{"x":{"datum":-24.74},"x2":{"datum":-18.47},"y":{"datum":19430},"y2":{"datum":19374}}},
{"data":{"name":"one"},"mark":{"type":"text","text":"DEMO","fontSize":6,"fontWeight":"bold","color":"#ffffff","align":"center","baseline":"middle"},"encoding":{"x":{"datum":-21.6},"y":{"datum":19402}}},
{"data":{"name":"one"},"mark":{"type":"text","text":"Allemagne 40 Cash (1€) Journalier 18 728,8 -0,00 % 14 mai 2024, 16:33:58","fontSize":11,"fontWeight":"bold","color":"#000000","align":"left","baseline":"middle","clip":false},"encoding":{"x":{"datum":-15.68},"y":{"datum":19433}}},
{"data":{"name":"one"},"mark":{"type":"text","text":"IT-Finance.com","fontSize":11.5,"color":"#000000","align":"right","baseline":"middle","clip":false},"encoding":{"x":{"datum":251.9},"y":{"datum":19433}}}
]},
{"width":733,"height":95,
"layer":[
{"data":{"name":"rsi"},"mark":{"type":"line","color":"#000000","strokeWidth":1},
 "encoding":{
  "x":{"field":"t","type":"quantitative","scale":{"domain":[-25.784,229.617],"nice":false,"zero":false,"padding":0},"axis":{"values":[-21.36,0,21.95,40.42,62.37,84.32,103.83,124.74,145.3,165.85,186.76,207.32],"labelExpr":"datum.value < -10 ? '' : datum.value < 10 ? 'nov.' : datum.value < 30 ? 'déc.' : datum.value < 50 ? '2024' : datum.value < 70 ? 'févr.' : datum.value < 90 ? 'mars' : datum.value < 110 ? 'avr.' : datum.value < 130 ? 'mai' : datum.value < 150 ? 'juin' : datum.value < 175 ? 'juil.' : datum.value < 195 ? 'août' : 'sept.'","labelFontWeight":{"condition":{"test":"datum.value > 40 && datum.value < 41","value":"bold"},"value":"normal"},"grid":true,"domain":false,"tickSize":5,"labelPadding":2,"title":null}},
  "y":{"field":"v","type":"quantitative","scale":{"domain":[-4.3,109.6],"nice":false,"zero":false,"padding":0},"axis":{"orient":"right","values":[0,50,100],"labelFontWeight":{"condition":{"test":"datum.value != 50","value":"bold"},"value":"normal"},"grid":false,"domain":false,"tickSize":5,"labelPadding":2,"title":null}}}},
{"data":{"name":"rsi"},"transform":[{"filter":"datum.v >= 80 && datum.t < 50"}],"mark":{"type":"area","color":"#e5c2b9"},"encoding":{"x":{"field":"t","type":"quantitative"},"y":{"field":"v","type":"quantitative"},"y2":{"datum":80}}},
{"data":{"name":"one"},"mark":{"type":"rule","color":"#2828d0","strokeWidth":1.5},"encoding":{"y":{"datum":80}}},
{"data":{"name":"one"},"mark":{"type":"rule","color":"#2828d0","strokeWidth":1.5},"encoding":{"y":{"datum":20}}},
{"data":{"name":"one"},"mark":{"type":"rule","color":"#2222ff","strokeWidth":1.4,"strokeDash":[5,3]},"encoding":{"y":{"datum":50}}},
{"data":{"name":"rsi"},"mark":{"type":"line","color":"#000000","strokeWidth":1},"encoding":{"x":{"field":"t","type":"quantitative"},"y":{"field":"v","type":"quantitative"}}},
{"data":{"name":"one"},"mark":{"type":"rect","fill":"#eef1f4","stroke":"#8f98a1"},"encoding":{"x":{"datum":-25.61},"x2":{"datum":-4.88},"y":{"datum":104.8},"y2":{"datum":86.8}}},
{"data":{"name":"one"},"mark":{"type":"rect","fill":"#000000"},"encoding":{"x":{"datum":-24.74},"x2":{"datum":-22.3},"y":{"datum":101.2},"y2":{"datum":92.8}}},
{"data":{"name":"one"},"mark":{"type":"text","text":"RSI (14)","fontSize":12,"color":"#000000","align":"left","baseline":"middle"},"encoding":{"x":{"datum":-20.9},"y":{"datum":96}}},
{"data":{"name":"one"},"mark":{"type":"point","shape":"M-1,-0.28H1V0.28H-1Z","size":3364,"filled":true,"fill":"#f7f7f7","stroke":"#8d959c","strokeWidth":1,"opacity":1,"clip":false},"encoding":{"x":{"datum":241.09},"y":{"datum":68.8}}},
{"data":{"name":"one"},"mark":{"type":"text","text":"69,532","fontSize":11.5,"color":"#000000","align":"center","baseline":"middle","clip":false},"encoding":{"x":{"datum":241.09},"y":{"datum":68.8}}}
]}
]
}
